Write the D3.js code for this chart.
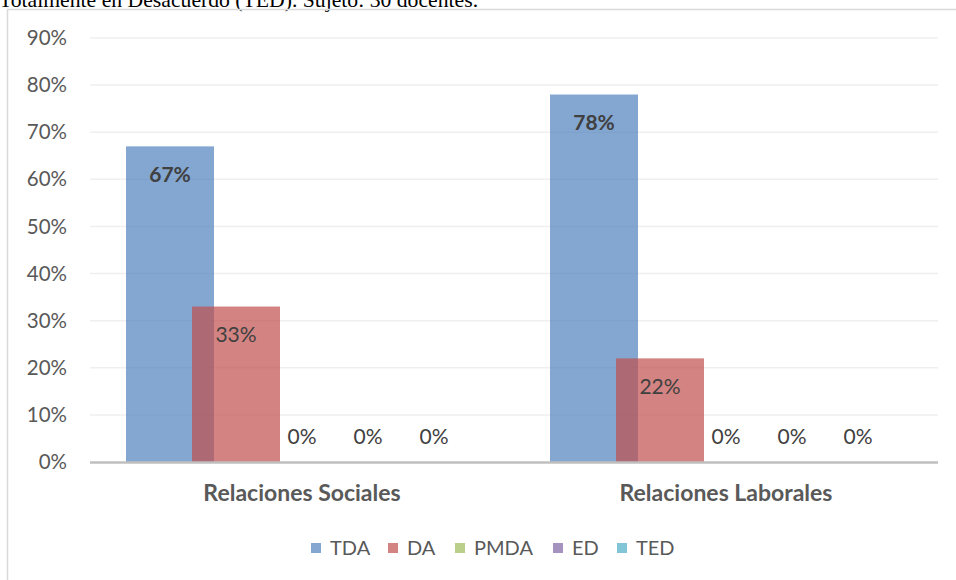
<!DOCTYPE html>
<html>
<head>
<meta charset="utf-8">
<script src="https://cdn.jsdelivr.net/npm/d3@7"></script>
<style>
  body { margin: 0; background: #fff; }
  svg { display: block; }
  .tick text { font-family: Lato, "Open Sans", sans-serif; }
</style>
</head>
<body>
<svg class="chart"></svg>
<script>
// data
const categories = ["Relaciones Sociales", "Relaciones Laborales"];
const seriesNames = ["TDA", "DA", "PMDA", "ED", "TED"];
const tdaValues = [67, 78];
const daValues = [33, 22];
const pmdaValues = [0, 0];
const edValues = [0, 0];
const tedValues = [0, 0];
const yTickValues = [0, 10, 20, 30, 40, 50, 60, 70, 80, 90];
const captionText = "Totalmente en Desacuerdo (TED). Sujeto: 30 docentes.";

const seriesValues = [tdaValues, daValues, pmdaValues, edValues, tedValues];
const colors = ["#4f81bd", "#c0504d", "#9bbb59", "#8064a2", "#4bacc6"];
const boldLabel = [true, false, false, false, false];

const width = 956, height = 580;
const plot = {left: 90, right: 938, top: 38, bottom: 462};
const barWidth = 88;

const svg = d3.select(".chart")
              .attr("width", width)
              .attr("height", height);

// caption line cut off at top of the picture
svg.append("text")
   .attr("x", -1)
   .attr("y", 7)
   .style("font-family", "'Liberation Serif', 'Times New Roman', serif")
   .style("font-size", "21.7px")
   .attr("fill", "#000")
   .text(captionText);

// chart frame (only top and left edges show)
svg.append("path")
   .attr("d", "M7.5,580 V9.5 H956")
   .attr("fill", "none")
   .attr("stroke", "#d9d9d9")
   .attr("stroke-width", 1.5);

let x0 = d3.scaleBand()
           .domain(categories)
           .range([plot.left, plot.right]);

let y = d3.scaleLinear()
          .domain([0, 90])
          .range([plot.bottom, plot.top]);

// gridlines
svg.append("g")
   .selectAll("line")
   .data(yTickValues.filter(d => d > 0))
   .enter().append("line")
   .attr("x1", plot.left)
   .attr("x2", plot.right)
   .attr("y1", d => y(d))
   .attr("y2", d => y(d))
   .attr("stroke", "#efefef")
   .attr("stroke-width", 1.5);

// y axis labels
let yAxis = d3.axisLeft(y)
              .tickValues(yTickValues)
              .tickSize(0)
              .tickPadding(0)
              .tickFormat(d => d + "%");

svg.append("g")
   .attr("transform", "translate(67,0)")
   .call(yAxis)
   .call(g => g.select(".domain").remove())
   .selectAll("text")
   .attr("fill", "#595959")
   .style("font-size", "20.5px");

// bars, one group per category
let xs = d3.scalePoint()
           .domain(seriesNames)
           .range([-132, 132]);

let groups = svg.append("g")
                .selectAll("g")
                .data(categories)
                .enter().append("g")
                .attr("transform", d => "translate(" + (x0(d) + x0.bandwidth() / 2) + ",0)");

seriesNames.forEach((name, i) => {
  groups.append("rect")
        .attr("x", xs(name) - barWidth / 2)
        .attr("y", (d, j) => y(seriesValues[i][j]))
        .attr("width", barWidth)
        .attr("height", (d, j) => y(0) - y(seriesValues[i][j]))
        .attr("fill", colors[i])
        .attr("fill-opacity", 0.7);
});

// data labels
seriesNames.forEach((name, i) => {
  groups.append("text")
        .attr("x", xs(name))
        .attr("y", (d, j) => Math.min(y(seriesValues[i][j]) + 28, y(0) - 25))
        .attr("dy", "0.35em")
        .attr("text-anchor", "middle")
        .style("font-family", "Lato, 'Open Sans', sans-serif")
        .style("font-size", "21px")
        .style("font-weight", boldLabel[i] ? "bold" : "normal")
        .attr("fill", "#404040")
        .text((d, j) => seriesValues[i][j] + "%");
});

// baseline
svg.append("line")
   .attr("x1", plot.left)
   .attr("x2", plot.right)
   .attr("y1", y(0) + 0.5)
   .attr("y2", y(0) + 0.5)
   .attr("stroke", "#bfbfbf")
   .attr("stroke-width", 2.5);

// category labels
let xAxis = d3.axisBottom(x0)
              .tickSize(0)
              .tickPadding(0);

svg.append("g")
   .attr("transform", "translate(0," + (y(0) + 31) + ")")
   .call(xAxis)
   .call(g => g.select(".domain").remove())
   .selectAll("text")
   .attr("dy", "0.35em")
   .attr("fill", "#595959")
   .style("font-size", "23px")
   .style("font-weight", "bold");

// legend
const legendX = [311, 388, 455, 553, 617];
let legend = svg.append("g")
                .selectAll("g")
                .data(seriesNames)
                .enter().append("g")
                .attr("transform", (d, i) => "translate(" + legendX[i] + ",548)");

legend.append("rect")
      .attr("x", 0)
      .attr("y", -5)
      .attr("width", 10)
      .attr("height", 10)
      .attr("fill", (d, i) => colors[i])
      .attr("fill-opacity", 0.7);

legend.append("text")
      .attr("x", 19)
      .attr("y", 0)
      .attr("dy", "0.35em")
      .style("font-family", "Lato, 'Open Sans', sans-serif")
      .style("font-size", "20px")
      .attr("fill", "#595959")
      .text(d => d);
</script>
</body>
</html>
